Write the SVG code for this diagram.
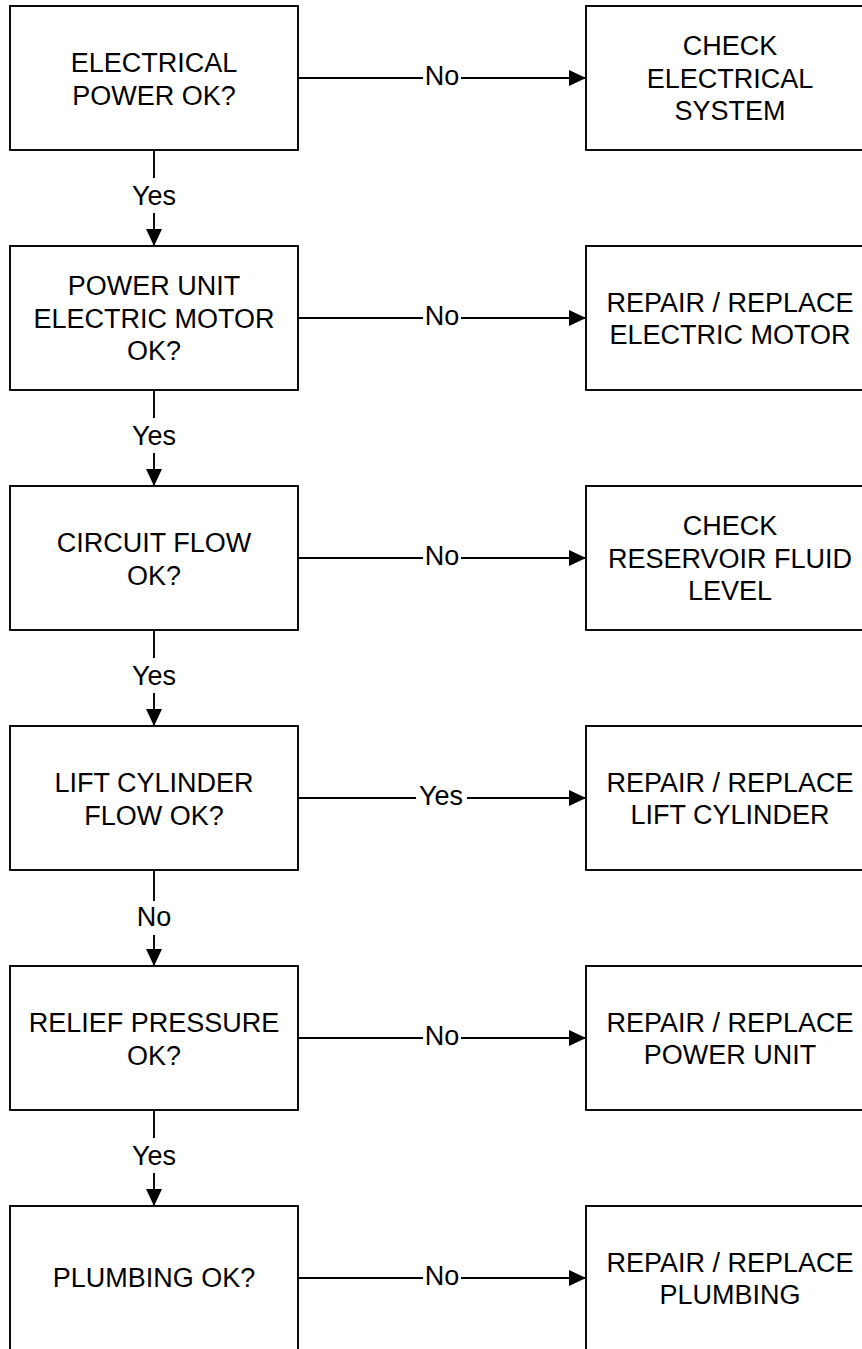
<svg xmlns="http://www.w3.org/2000/svg" width="862" height="1349" viewBox="0 0 862 1349">
<style>
.box{fill:#fff;stroke:#000;stroke-width:1.9}
.t{font-family:"Liberation Sans",Arial,Helvetica,sans-serif;font-size:27px;fill:#000;text-anchor:middle}
.c{fill:none;stroke:#000;stroke-width:1.9}
.a{fill:none;stroke:#000;stroke-width:1.9;marker-end:url(#ah)}
</style>
<defs>
<marker id="ah" markerUnits="userSpaceOnUse" markerWidth="18" markerHeight="17" refX="17" refY="8" orient="auto">
<path d="M0,0 L17,8 L0,16 Z" fill="#000"/>
</marker>
</defs>
<rect width="862" height="1349" fill="#fff"/>
<g id="connectors">
<path class="c" d="M298,78 H423"/><path class="a" d="M461,78 H586"/><text class="t" x="442" y="84.5">No</text>
<path class="c" d="M298,318 H423"/><path class="a" d="M461,318 H586"/><text class="t" x="442" y="324.5">No</text>
<path class="c" d="M298,558 H423"/><path class="a" d="M461,558 H586"/><text class="t" x="442" y="564.5">No</text>
<path class="c" d="M298,798 H416"/><path class="a" d="M467,798 H586"/><text class="t" x="441" y="804.5">Yes</text>
<path class="c" d="M298,1038 H423"/><path class="a" d="M461,1038 H586"/><text class="t" x="442" y="1044.5">No</text>
<path class="c" d="M298,1278 H423"/><path class="a" d="M461,1278 H586"/><text class="t" x="442" y="1284.5">No</text>
<path class="c" d="M154,150 V178"/><path class="a" d="M154,213 V246"/><text class="t" x="154" y="205">Yes</text>
<path class="c" d="M154,390 V418"/><path class="a" d="M154,453 V486"/><text class="t" x="154" y="445">Yes</text>
<path class="c" d="M154,630 V658"/><path class="a" d="M154,693 V726"/><text class="t" x="154" y="685">Yes</text>
<path class="c" d="M154,870 V901"/><path class="a" d="M154,935 V966"/><text class="t" x="154" y="926">No</text>
<path class="c" d="M154,1110 V1138"/><path class="a" d="M154,1173 V1206"/><text class="t" x="154" y="1165">Yes</text>
</g>
<g id="n1"><rect class="box" x="10" y="6" width="288" height="144"/><text class="t" x="154" y="72">ELECTRICAL</text><text class="t" x="154" y="104.5">POWER OK?</text></g>
<g id="r1"><rect class="box" x="586" y="6" width="288" height="144"/><text class="t" x="730" y="55">CHECK</text><text class="t" x="730" y="87.5">ELECTRICAL</text><text class="t" x="730" y="120">SYSTEM</text></g>
<g id="n2"><rect class="box" x="10" y="246" width="288" height="144"/><text class="t" x="154" y="295">POWER UNIT</text><text class="t" x="154" y="327.5">ELECTRIC MOTOR</text><text class="t" x="154" y="360">OK?</text></g>
<g id="r2"><rect class="box" x="586" y="246" width="288" height="144"/><text class="t" x="730" y="312">REPAIR / REPLACE</text><text class="t" x="730" y="344">ELECTRIC MOTOR</text></g>
<g id="n3"><rect class="box" x="10" y="486" width="288" height="144"/><text class="t" x="154" y="552">CIRCUIT FLOW</text><text class="t" x="154" y="584.5">OK?</text></g>
<g id="r3"><rect class="box" x="586" y="486" width="288" height="144"/><text class="t" x="730" y="535">CHECK</text><text class="t" x="730" y="567.5">RESERVOIR FLUID</text><text class="t" x="730" y="600">LEVEL</text></g>
<g id="n4"><rect class="box" x="10" y="726" width="288" height="144"/><text class="t" x="154" y="792">LIFT CYLINDER</text><text class="t" x="154" y="824.5">FLOW OK?</text></g>
<g id="r4"><rect class="box" x="586" y="726" width="288" height="144"/><text class="t" x="730" y="792">REPAIR / REPLACE</text><text class="t" x="730" y="824">LIFT CYLINDER</text></g>
<g id="n5"><rect class="box" x="10" y="966" width="288" height="144"/><text class="t" x="154" y="1032">RELIEF PRESSURE</text><text class="t" x="154" y="1064.5">OK?</text></g>
<g id="r5"><rect class="box" x="586" y="966" width="288" height="144"/><text class="t" x="730" y="1032">REPAIR / REPLACE</text><text class="t" x="730" y="1064">POWER UNIT</text></g>
<g id="n6"><rect class="box" x="10" y="1206" width="288" height="144"/><text class="t" x="154" y="1287">PLUMBING OK?</text></g>
<g id="r6"><rect class="box" x="586" y="1206" width="288" height="144"/><text class="t" x="730" y="1272">REPAIR / REPLACE</text><text class="t" x="730" y="1304">PLUMBING</text></g>
</svg>
